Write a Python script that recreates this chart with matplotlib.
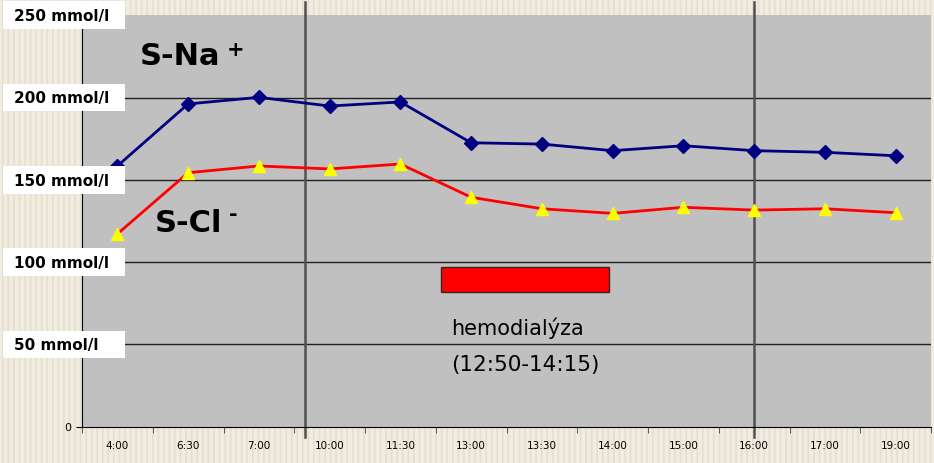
import matplotlib.pyplot as plt
from matplotlib.patches import Rectangle
import matplotlib.transforms as mtransforms

# time points (category axis) and measured values
times = ["4:00", "6:30", "7:00", "10:00", "11:30", "13:00", "13:30",
         "14:00", "15:00", "16:00", "17:00", "19:00"]
na_vals = [158.4, 196.1, 200.1, 194.8, 197.3, 172.5, 171.7,
           167.7, 170.7, 167.7, 166.7, 164.6]
cl_vals = [117.1, 154.3, 158.4, 156.6, 159.6, 139.4, 132.4,
           129.6, 133.3, 131.6, 132.4, 130.0]
y_levels = [50, 100, 150, 200, 250]
y_labels = ["50 mmol/l", "100 mmol/l", "150 mmol/l", "200 mmol/l", "250 mmol/l"]

# hemodialysis bar (in category units) and marker lines
hd_x = (4.57, 6.95)
hd_y = (81.7, 96.8)
vlines_x = [2.65, 9.0]

plt.rcParams['hatch.linewidth'] = 1.2
plt.rcParams['hatch.color'] = '#E6DECD'

fig = plt.figure(figsize=(9.34, 4.63), dpi=100)
fig.patch.set_facecolor('#F1ECE1')
# striped paper background
fig.patches.append(Rectangle((0, 0), 1, 1, transform=fig.transFigure,
                             facecolor='#F1ECE1', edgecolor='#E6DECD',
                             hatch='|||', lw=0, zorder=-10))

ax = fig.add_axes([82 / 934, 36.3 / 463, 849 / 934, 411.5 / 463])
ax.set_facecolor('#C0C0C0')
x = list(range(len(times)))

for lv in y_levels[:-1]:
    ax.axhline(lv, color='#202020', lw=1.0, zorder=1)

ax.plot(x, na_vals, color='#000080', lw=2.0, marker='D', ms=7,
        markerfacecolor='#000080', markeredgecolor='#000080', zorder=4)
ax.plot(x, cl_vals, color='#FF0000', lw=2.0, marker='^', ms=9,
        markerfacecolor='#FFFF00', markeredgecolor='#FFFF00', zorder=4)

ax.add_patch(Rectangle((hd_x[0], hd_y[0]), hd_x[1] - hd_x[0], hd_y[1] - hd_y[0],
                       facecolor='#FF0000', edgecolor='#402020', lw=1.0, zorder=3))

ax.set_xlim(-0.5, len(times) - 0.5)
ax.set_ylim(0, 250)

ax.set_xticks(x)
ax.set_xticklabels(times, fontsize=7.5)
ax.set_xticks([i - 0.5 for i in range(len(times) + 1)], minor=True)
ax.tick_params(axis='x', which='major', length=0, pad=10)
ax.tick_params(axis='x', which='minor', length=4, direction='out', color='#404040')
ax.set_yticks([0])
ax.set_yticklabels(["0"], fontsize=8)
ax.tick_params(axis='y', length=4, direction='out')

for side in ['top', 'right']:
    ax.spines[side].set_visible(False)
ax.spines['left'].set_color('black')
ax.spines['bottom'].set_color('black')

# vertical marker lines reaching above and below the plot
for vx in vlines_x:
    ax.plot([vx, vx], [-6, 258], color='#505050', lw=1.8, clip_on=False, zorder=2)

# white y-label boxes
trans = mtransforms.blended_transform_factory(fig.transFigure, ax.transData)
for lv, lab in zip(y_levels, y_labels):
    box = Rectangle((3 / 934, lv - 8.4), 122 / 934, 16.8, transform=trans,
                    facecolor='white', edgecolor='none', clip_on=False, zorder=5)
    fig.add_artist(box)
    fig.text(14 / 934, 0, lab, transform=trans, fontsize=11, fontweight='bold',
             va='center', ha='left', zorder=6).set_y(lv - 0.8)

ax.text(0.32, 220, "S-Na", fontsize=22, fontweight='bold', va='baseline', ha='left', zorder=6)
ax.text(1.675, 228.9, "+", fontsize=15, fontweight='bold', va='center', ha='center', zorder=6)
ax.text(0.53, 118.3, "S-Cl", fontsize=22, fontweight='bold', va='baseline', ha='left', zorder=6)
ax.text(1.64, 128.5, "-", fontsize=15, fontweight='bold', va='center', ha='center', zorder=6)

ax.text(4.72, 55.7, "hemodialýza", fontsize=15, va='baseline', ha='left', zorder=6)
ax.text(4.72, 34.0, "(12:50-14:15)", fontsize=15.5, va='baseline', ha='left', zorder=6)

fig.savefig("out.png", dpi=100, facecolor=fig.get_facecolor())
